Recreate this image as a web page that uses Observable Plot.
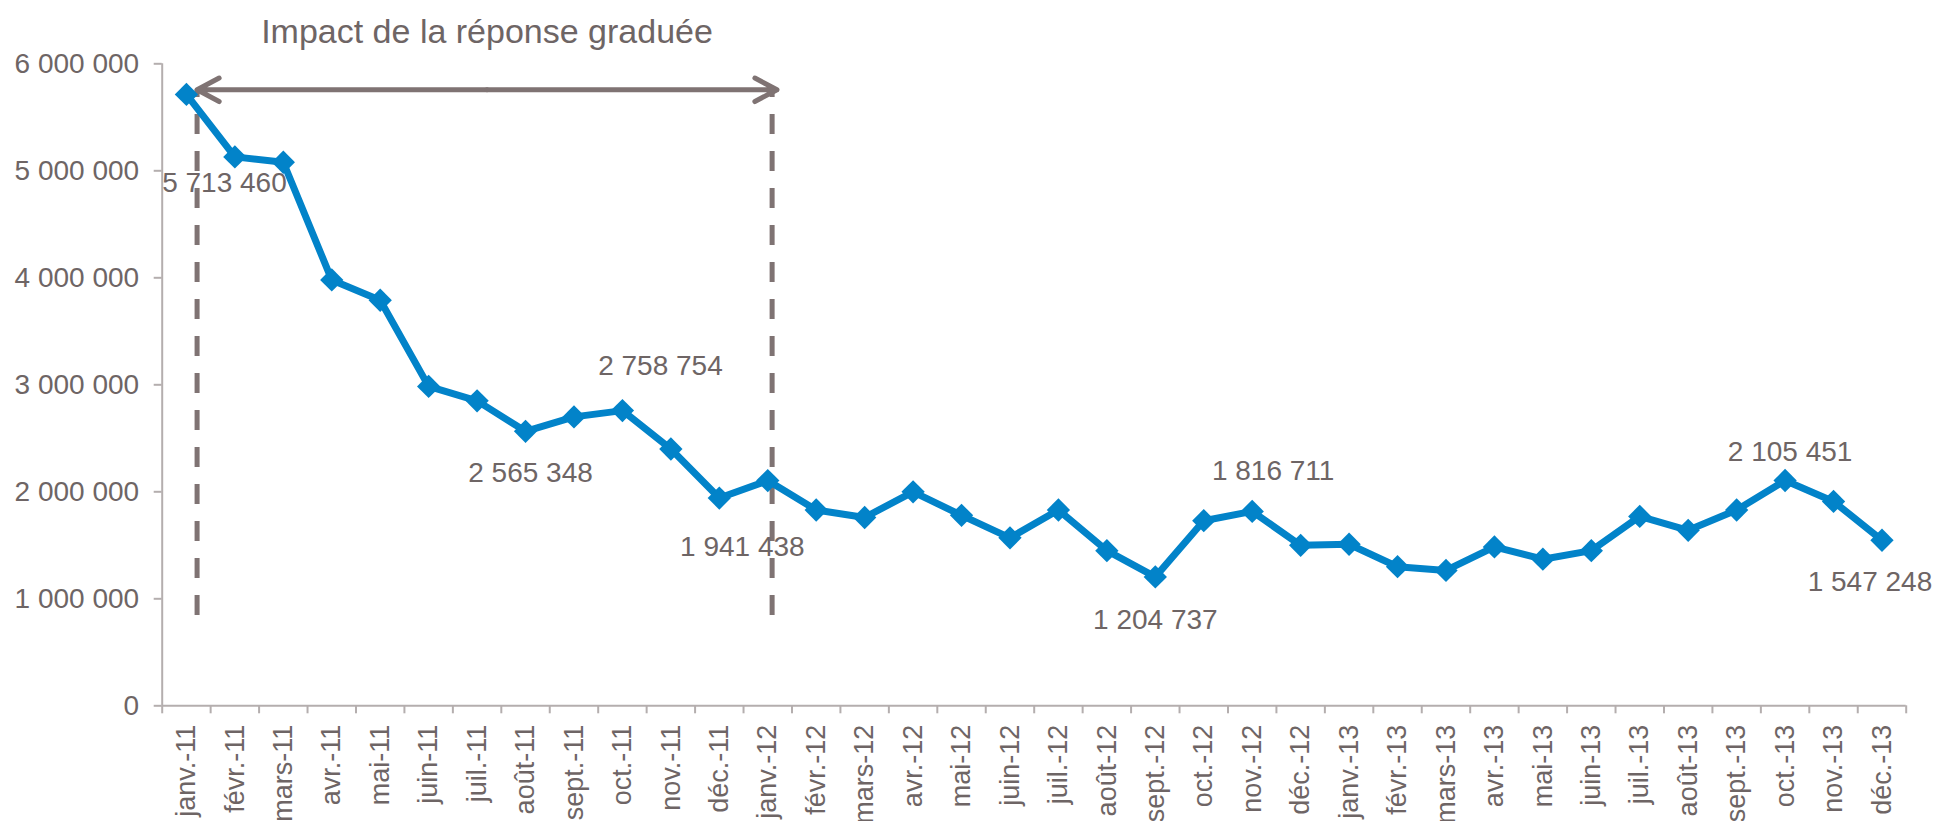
<!DOCTYPE html>
<html><head><meta charset="utf-8">
<script src="https://cdn.jsdelivr.net/npm/d3@7"></script>
<script src="https://cdn.jsdelivr.net/npm/@observablehq/plot@0.6"></script>
<style>
html,body{margin:0;padding:0;background:#fff;overflow:hidden;}
#chart{width:1934px;height:821px;overflow:hidden;}
</style></head><body><div id="chart"></div>
<script>
const months = ["janv.-11","févr.-11","mars-11","avr.-11","mai-11","juin-11","juil.-11","août-11","sept.-11","oct.-11","nov.-11","déc.-11",
"janv.-12","févr.-12","mars-12","avr.-12","mai-12","juin-12","juil.-12","août-12","sept.-12","oct.-12","nov.-12","déc.-12",
"janv.-13","févr.-13","mars-13","avr.-13","mai-13","juin-13","juil.-13","août-13","sept.-13","oct.-13","nov.-13","déc.-13"];
const values = [5713460,5130000,5080000,3980000,3790000,2985000,2850000,2565348,2700000,2758754,2400000,1941438,
2105000,1830000,1760000,2000000,1780000,1570000,1830000,1450000,1204737,1730000,1816711,1500000,
1510000,1300000,1265000,1485000,1370000,1450000,1770000,1640000,1830000,2105451,1910000,1547248];
const yTicks = [0,1000000,2000000,3000000,4000000,5000000,6000000];
const labelledMonths = ["janv.-11","août-11","oct.-11","déc.-11","sept.-12","nov.-12","oct.-13","déc.-13"];
const titleText = "Impact de la réponse graduée";
// annotation: period of the "réponse graduée" (in month-index units and values)
const impactStart = 0.22, impactEnd = 12.19, impactDashEnd = 12.09;
const impactLevel = 5757000, dashBottom = 844000;

// label placement (pixels) for each labelled month
const labelOffsets = [[38,89],[5,42],[38,-45],[23,49],[0,43],[21,-40],[5,-28],[-12,42]];

const FONT = '"Liberation Sans",Arial,sans-serif';
const TEXT = "#6e6565", AXIS = "#b4aeae", ANNOT = "#7f7373", BLUE = "#0283c9";
const fmt = v => d3.format(",")(v).replace(/,/g, " ");

const data = months.map((m, i) => ({i, m, v: values[i]}));
const boundaries = d3.range(-0.5, months.length, 1);
const mid = (impactStart + impactEnd) / 2;

const labelMarks = labelledMonths.map((m, k) => {
  const d = data.find(e => e.m === m);
  return Plot.text([d], {x: "i", y: "v", text: e => fmt(e.v), dx: labelOffsets[k][0], dy: labelOffsets[k][1],
    fill: TEXT, fontSize: 28, fontFamily: FONT});
});

const chart = Plot.plot({
  width: 1934, height: 821,
  marginLeft: 161.7, marginRight: 28.3, marginTop: 63.3, marginBottom: 115.7,
  style: {fontFamily: FONT, background: "white", color: TEXT},
  x: {type: "linear", domain: [-0.5, months.length - 0.5], label: null},
  y: {domain: [0, 6000000], label: null},
  marks: [
    Plot.axisY({ticks: yTicks, label: null, tickSize: 8, tickPadding: 15, tickFormat: fmt, fontSize: 28, fill: TEXT, stroke: AXIS, strokeWidth: 2, fontFamily: FONT}),
    Plot.axisX({ticks: boundaries, label: null, tickSize: 8, tickFormat: () => "", stroke: AXIS, strokeWidth: 2}),
    Plot.axisX({ticks: d3.range(months.length), label: null, tickSize: 0, tickPadding: 19, tickRotate: -90, tickFormat: i => months[i], fontSize: 27, fill: TEXT, fontFamily: FONT}),
    Plot.ruleX([-0.5], {stroke: AXIS, strokeWidth: 2}),
    Plot.ruleY([0], {stroke: AXIS, strokeWidth: 2}),
    Plot.ruleX([impactStart, impactDashEnd], {y1: dashBottom, y2: impactLevel, stroke: ANNOT, strokeWidth: 5, strokeDasharray: "20,17"}),
    Plot.arrow([{a: mid, b: impactStart}, {a: mid, b: impactEnd}], {x1: "a", x2: "b", y1: impactLevel, y2: impactLevel,
      stroke: ANNOT, strokeWidth: 5, headLength: 7.5, headAngle: 56, strokeLinecap: "round", strokeLinejoin: "round"}),
    Plot.text([titleText], {x: mid, y: impactLevel, text: d => d, dy: -58, fill: TEXT, fontSize: 34, fontFamily: FONT}),
    Plot.line(data, {x: "i", y: "v", stroke: BLUE, strokeWidth: 7}),
    Plot.dot(data, {x: "i", y: "v", symbol: "diamond2", r: 10.5, fill: BLUE, stroke: "none"}),
    ...labelMarks
  ]
});
document.getElementById("chart").appendChild(chart);
</script>
</body></html>
